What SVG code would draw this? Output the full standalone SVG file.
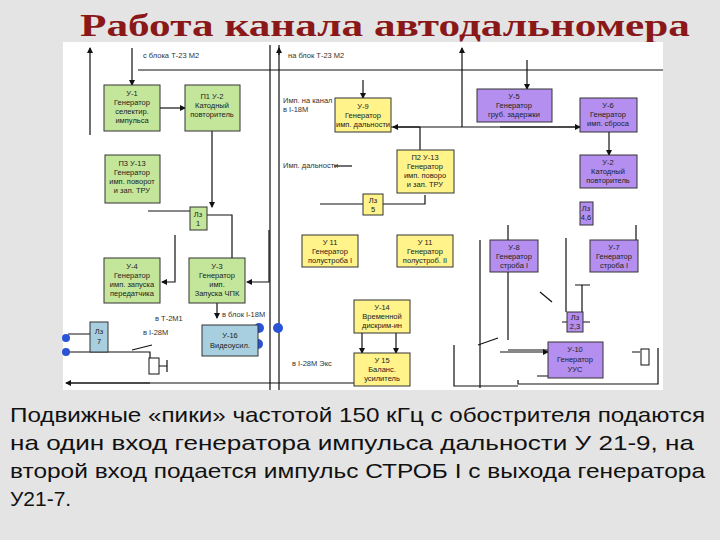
<svg xmlns="http://www.w3.org/2000/svg" width="720" height="540" viewBox="0 0 720 540">
<defs>
<marker id="a" viewBox="0 0 6 6" refX="5" refY="3" markerWidth="5" markerHeight="5" orient="auto"><path d="M0,0L6,3L0,6z" fill="#111"/></marker>
<style>
.g{fill:#c4e69a;stroke:#333;stroke-width:1}
.y{fill:#fff38a;stroke:#333;stroke-width:1}
.p{fill:#b48ff0;stroke:#333;stroke-width:1}
.b{fill:#a8cfe0;stroke:#333;stroke-width:1}
text{font-family:"Liberation Sans",Arial,sans-serif}
.t{font-size:7.5px;fill:#222;text-anchor:middle}
.l{font-size:7.5px;fill:#333}
.c{fill:none;stroke:#111;stroke-width:1.2}
.ca{fill:none;stroke:#111;stroke-width:1.2;marker-end:url(#a)}
</style>
</defs>
<rect width="720" height="540" fill="#e4e4e4"/>
<text x="80" y="36" font-weight="bold" font-size="32" fill="#8a1818" textLength="610" lengthAdjust="spacingAndGlyphs" style="font-family:'Liberation Serif',serif">Работа канала автодальномера</text>
<rect x="63" y="42" width="600" height="348" fill="#fff"/>
<g id="connectors">
<path class="ca" d="M90,135V48"/>
<path class="ca" d="M132,48V85"/>
<path class="c" d="M138,70H663"/>
<path class="ca" d="M160,108H185"/>
<path class="ca" d="M212,131V207"/>
<path class="c" d="M270,45V390 M279,45V390"/>
<path class="ca" d="M279,55V48"/>
<path class="ca" d="M363,80V98"/>
<path class="ca" d="M462,127V48"/>
<path class="ca" d="M527,60V89"/>
<path class="c" d="M391,127H580"/><path class="ca" d="M500,127H580"/><path class="ca" d="M420,127H393"/>
<path class="c" d="M420,150V127"/>
<path class="c" d="M334,166H352"/>
<path class="c" d="M320,204H363 M383,204H425V195"/>
<path class="ca" d="M609,132V155"/>
<path class="c" d="M148,211H190 M207,215H232V258"/>
<path class="ca" d="M175,235V282H162"/>
<path class="ca" d="M269,230V282H247"/>
<path class="ca" d="M217,303V318"/>
<path class="c" d="M480,240V388 M508,262V340 M518,380V384H658V348"/>
<path class="c" d="M636,225V240 M508,240V225 M566,238V312"/>
<path class="c" d="M537,376H548 M508,350H548"/>
<path class="ca" d="M500,352H548"/>
<path class="c" d="M454,345V386H518"/>
<path class="ca" d="M362,333V353"/><path class="ca" d="M396,333V353"/>
<path class="ca" d="M250,330V350"/>
<path class="c" d="M68,383H354"/><path class="ca" d="M150,383H66"/>
<path class="c" d="M68,334H90 M68,352H150V360"/>
<path class="c" d="M132,350l20,-5 M478,345l20,-7 M540,292l12,10 M632,352h8"/>
<rect x="149" y="358" width="10" height="16" fill="#fff" stroke="#111"/>
<rect x="641" y="349" width="8" height="16" fill="#fff" stroke="#111"/>
<path class="c" d="M159,366H167 M167,360V372 M568,322H562 M583,322H590 M575,285H590 M582,285V312"/>
<circle cx="259" cy="328" r="5" fill="#2a54d8"/><circle cx="258" cy="344" r="5" fill="#2a54d8"/><circle cx="278" cy="328" r="5" fill="#2a54d8"/>
<circle cx="66" cy="338" r="4" fill="#2a54d8"/><circle cx="66" cy="352" r="4" fill="#2a54d8"/>
</g>
<g id="labels">
<text class="l" x="143" y="58">с блока Т-23 М2</text>
<text class="l" x="288" y="58">на блок Т-23 М2</text>
<text class="l" x="283" y="103">Имп. на канал</text><text class="l" x="283" y="112">в I-18М</text>
<text class="l" x="283" y="168">Имп. дальности</text>
<text class="l" x="155" y="321">в Т-2М1</text>
<text class="l" x="143" y="335">в I-28М</text>
<text class="l" x="222" y="317">в блок I-18М</text>
<text class="l" x="292" y="366">в I-28М Экс</text>
</g>
<g id="u1"><rect class="g" x="104" y="85" width="56" height="46"/><text class="t" x="132" y="96">У-1</text><text class="t" x="132" y="105">Генератор</text><text class="t" x="132" y="114">селектир.</text><text class="t" x="132" y="123">импульса</text></g>
<g id="u2g"><rect class="g" x="185" y="85" width="55" height="46"/><text class="t" x="212" y="99">П1 У-2</text><text class="t" x="212" y="108">Катодный</text><text class="t" x="212" y="117">повторитель</text></g>
<g id="u13a"><rect class="g" x="105" y="155" width="55" height="48"/><text class="t" x="132" y="166">П3 У-13</text><text class="t" x="132" y="175">Генератор</text><text class="t" x="132" y="184">имп. поворот</text><text class="t" x="132" y="193">и зап. ТРУ</text></g>
<g id="l1"><rect class="g" x="190" y="207" width="17" height="23"/><text class="t" x="198" y="217">Лз</text><text class="t" x="198" y="226">1</text></g>
<g id="u4"><rect class="g" x="104" y="258" width="56" height="45"/><text class="t" x="132" y="269">У-4</text><text class="t" x="132" y="278">Генератор</text><text class="t" x="132" y="287">имп. запуска</text><text class="t" x="132" y="296">передатчика</text></g>
<g id="u3"><rect class="g" x="189" y="258" width="56" height="45"/><text class="t" x="217" y="269">У-3</text><text class="t" x="217" y="278">Генератор</text><text class="t" x="217" y="287">имп.</text><text class="t" x="217" y="296">Запуска ЧПК</text></g>
<g id="u16"><rect class="b" x="202" y="325" width="56" height="31"/><text class="t" x="230" y="338">У-16</text><text class="t" x="230" y="348">Видеоусил.</text></g>
<g id="l7"><rect class="b" x="90" y="322" width="18" height="30"/><text class="t" x="99" y="334">Лз</text><text class="t" x="99" y="344">7</text></g>
<g id="u9"><rect class="y" x="335" y="98" width="56" height="34"/><text class="t" x="363" y="109">У-9</text><text class="t" x="363" y="118">Генератор</text><text class="t" x="363" y="127">имп. дальности</text></g>
<g id="u13b"><rect class="y" x="397" y="150" width="57" height="43"/><text class="t" x="425" y="160">П2 У-13</text><text class="t" x="425" y="169">Генератор</text><text class="t" x="425" y="178">имп. поворо</text><text class="t" x="425" y="187">и зап. ТРУ</text></g>
<g id="l5"><rect class="y" x="363" y="194" width="20" height="21"/><text class="t" x="373" y="203">Лз</text><text class="t" x="373" y="212">5</text></g>
<g id="u11a"><rect class="y" x="302" y="235" width="56" height="32"/><text class="t" x="330" y="245">У 11</text><text class="t" x="330" y="254">Генератор</text><text class="t" x="330" y="263">полустроба I</text></g>
<g id="u11b"><rect class="y" x="397" y="235" width="56" height="32"/><text class="t" x="425" y="245">У 11</text><text class="t" x="425" y="254">Генератор</text><text class="t" x="425" y="263">полустроб. II</text></g>
<g id="u14"><rect class="y" x="354" y="300" width="56" height="33"/><text class="t" x="382" y="310">У-14</text><text class="t" x="382" y="319">Временной</text><text class="t" x="382" y="328">дискрим-ин</text></g>
<g id="u15"><rect class="y" x="354" y="353" width="56" height="33"/><text class="t" x="382" y="363">У 15</text><text class="t" x="382" y="372">Баланс.</text><text class="t" x="382" y="381">усилитель</text></g>
<g id="u5"><rect class="p" x="477" y="89" width="75" height="33"/><text class="t" x="514" y="99">У-5</text><text class="t" x="514" y="108">Генератор</text><text class="t" x="514" y="117">груб. задержки</text></g>
<g id="u6"><rect class="p" x="580" y="98" width="57" height="34"/><text class="t" x="608" y="108">У-6</text><text class="t" x="608" y="117">Генератор</text><text class="t" x="608" y="126">имп. сброса</text></g>
<g id="u2p"><rect class="p" x="580" y="155" width="57" height="33"/><text class="t" x="608" y="165">У-2</text><text class="t" x="608" y="174">Катодный</text><text class="t" x="608" y="183">повторитель</text></g>
<g id="l46"><rect class="p" x="580" y="202" width="13" height="23"/><text class="t" x="586" y="211">Лз</text><text class="t" x="586" y="220">4,6</text></g>
<g id="u8"><rect class="p" x="490" y="240" width="48" height="32"/><text class="t" x="514" y="250">У-8</text><text class="t" x="514" y="259">Генератор</text><text class="t" x="514" y="268">строба I</text></g>
<g id="u7"><rect class="p" x="590" y="240" width="48" height="32"/><text class="t" x="614" y="250">У-7</text><text class="t" x="614" y="259">Генератор</text><text class="t" x="614" y="268">строба I</text></g>
<g id="l23"><rect class="p" x="567" y="312" width="16" height="20"/><text class="t" x="575" y="320">Лз</text><text class="t" x="575" y="329">2,3</text></g>
<g id="u10"><rect class="p" x="548" y="342" width="55" height="36"/><text class="t" x="575" y="352">У-10</text><text class="t" x="575" y="362">Генератор</text><text class="t" x="575" y="372">УУС</text></g>
<g id="para" fill="#111">
<text x="10" y="422" font-size="21" textLength="695" lengthAdjust="spacingAndGlyphs">Подвижные «пики» частотой 150 кГц с обострителя подаются</text>
<text x="10" y="450" font-size="21" textLength="684" lengthAdjust="spacingAndGlyphs">на один вход генератора  импульса дальности У 21-9, на</text>
<text x="10" y="478" font-size="21" textLength="695" lengthAdjust="spacingAndGlyphs">второй  вход подается импульс СТРОБ I с выхода генератора</text>
<text x="10" y="506" font-size="21">У21-7.</text>
</g>
</svg>
